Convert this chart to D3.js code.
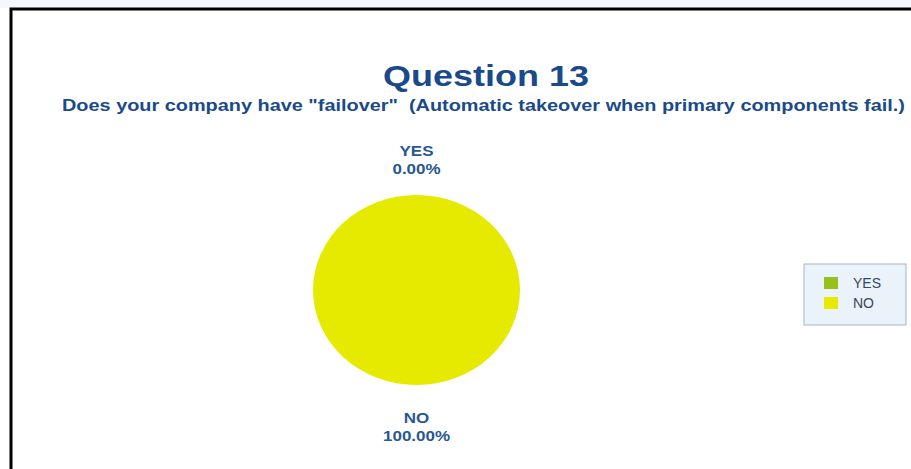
<!DOCTYPE html>
<html>
<head>
<meta charset="utf-8">
<script src="https://cdn.jsdelivr.net/npm/d3@7"></script>
<style>
  html, body { margin: 0; padding: 0; background: #ffffff; }
  svg { display: block; }
  text { font-family: "Liberation Sans", Arial, sans-serif; }
</style>
</head>
<body>
<svg id="chart" width="911" height="469"></svg>
<script>
// Survey answers for question 13
const categories = ["YES", "NO"];
const shares = [0.0, 100.0];
const sliceColors = ["#97c11a", "#e5ea00"];
const titleText = "Question 13";
const subtitleText = 'Does your company have "failover"  (Automatic takeover when primary components fail.)';

const W = 911, H = 469;
const svg = d3.select("#chart");

// page strip and frame
svg.append("rect").attr("x", 0).attr("y", 0).attr("width", W).attr("height", 8).attr("fill", "#f4f8fc");
svg.append("path")
  .attr("d", `M11,${H} L11,9 L${W},9`)
  .attr("fill", "none").attr("stroke", "#000").attr("stroke-width", 3);

// titles
svg.append("text")
  .attr("x", 486).attr("y", 85.5)
  .attr("text-anchor", "middle")
  .attr("font-size", 29.5).attr("font-weight", "bold")
  .attr("fill", "#1a4a8a")
  .attr("textLength", 206).attr("lengthAdjust", "spacingAndGlyphs")
  .text(titleText);

svg.append("text")
  .attr("x", 483.5).attr("y", 110.5)
  .attr("text-anchor", "middle")
  .attr("font-size", 16).attr("font-weight", "bold")
  .attr("fill", "#1a4a8a")
  .attr("textLength", 843).attr("lengthAdjust", "spacingAndGlyphs")
  .style("white-space", "pre")
  .text(subtitleText);

// pie (drawn as a circle, stretched slightly wider than tall)
const cx = 416.5, cy = 290, ry = 95, rx = 103.5;
const stretch = rx / ry;
const pieData = d3.pie().sort(null).value(d => d)(shares);
const arc = d3.arc().innerRadius(0).outerRadius(ry);
const color = d3.scaleOrdinal().domain(categories).range(sliceColors);

const pieG = svg.append("g").attr("transform", `translate(${cx},${cy}) scale(${stretch},1)`);
pieG.selectAll("path.slice")
  .data(pieData)
  .join("path")
  .attr("class", "slice")
  .attr("d", arc)
  .attr("fill", (d, i) => color(categories[i]));

// outside labels: category and percentage
const labelArc = d3.arc().innerRadius(114).outerRadius(114);
const labelG = svg.append("g").attr("transform", `translate(${cx},${cy})`);
pieData.forEach((d, i) => {
  const [lx, ly] = labelArc.centroid(d);
  const above = ly < 0;
  const firstBaseline = above ? ly - 20 : ly + 19;
  const t = labelG.append("text")
    .attr("text-anchor", "middle")
    .attr("font-size", 14.5).attr("font-weight", "bold")
    .attr("fill", "#285890")
    .attr("transform", `translate(${lx * stretch},0) scale(1.17,1)`);
  t.append("tspan").attr("x", 0).attr("y", firstBaseline).text(categories[i]);
  t.append("tspan").attr("x", 0).attr("y", firstBaseline + 18).text(d3.format(".2f")(shares[i]) + "%");
});

// legend
const legend = svg.append("g").attr("transform", "translate(804,264)");
legend.append("rect")
  .attr("width", 102).attr("height", 61)
  .attr("fill", "#eaf2fa").attr("stroke", "#aab6c4").attr("stroke-width", 1);
categories.forEach((c, i) => {
  legend.append("rect")
    .attr("x", 20).attr("y", 13 + i * 20)
    .attr("width", 14).attr("height", 12)
    .attr("fill", color(c));
  legend.append("text")
    .attr("x", 49).attr("y", 24 + i * 20)
    .attr("font-size", 14)
    .attr("fill", "#38465f")
    .text(c);
});
</script>
</body>
</html>
